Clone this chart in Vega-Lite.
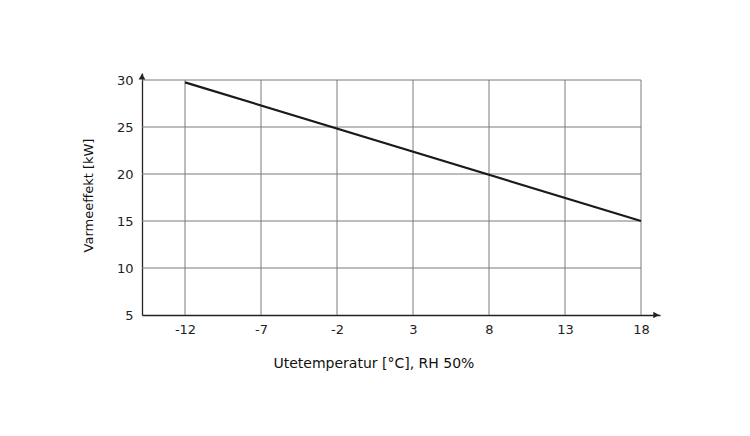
{
  "$schema": "https://vega.github.io/schema/vega-lite/v6.json",
  "autosize": {"type": "none"},
  "width": 518,
  "height": 242,
  "padding": {"left": 142, "top": 73, "right": 90, "bottom": 121},
  "background": "white",
  "config": {"view": {"stroke": null}, "font": "DejaVu Sans"},
  "datasets": {
    "curve": [{"t": -12, "p": 29.75}, {"t": 18, "p": 15}],
    "vgrid": [{"x": -12}, {"x": -7}, {"x": -2}, {"x": 3}, {"x": 8}, {"x": 13}, {"x": 18}],
    "hgrid": [{"y": 10}, {"y": 15}, {"y": 20}, {"y": 25}, {"y": 30}],
    "arrows": [{"x": 19.0, "y": 5, "s": "triangle-right"}, {"x": -14.83, "y": 30.35, "s": "triangle-up"}]
  },
  "layer": [
    {
      "data": {"name": "vgrid"},
      "mark": {"type": "rule", "color": "#7a7a7a", "strokeWidth": 1},
      "encoding": {
        "x": {"field": "x", "type": "quantitative",
          "scale": {"domain": [-14.83, 19.25], "nice": false, "zero": false},
          "axis": {
            "values": [-12, -7, -2, 3, 8, 13, 18],
            "labelExpr": "toString(datum.value)",
            "grid": false, "ticks": false,
            "domainColor": "#222", "domainWidth": 1.3,
            "labelFontSize": 13, "labelColor": "#222", "labelPadding": 8,
            "title": "Utetemperatur [°C], RH 50%",
            "titleFontSize": 14, "titleFontWeight": "normal", "titleColor": "#111",
            "titleAnchor": "start", "titleAlign": "left", "titleX": 131, "titleY": 41
          }},
        "y": {"datum": 5, "type": "quantitative",
          "scale": {"domain": [5, 30.745], "nice": false, "zero": false},
          "axis": {
            "values": [5, 10, 15, 20, 25, 30],
            "grid": false, "ticks": false,
            "domainColor": "#222", "domainWidth": 1.3,
            "labelFontSize": 13, "labelColor": "#222", "labelPadding": 9,
            "title": "Varmeeffekt [kW]",
            "titleFontSize": 13, "titleFontWeight": "normal", "titleColor": "#111",
            "titleAngle": -90, "titleAlign": "center", "titleBaseline": "middle",
            "titleX": -54, "titleY": 122
          }},
        "y2": {"datum": 30}
      }
    },
    {
      "data": {"name": "hgrid"},
      "mark": {"type": "rule", "color": "#7a7a7a", "strokeWidth": 1},
      "encoding": {
        "x": {"datum": -14.83, "type": "quantitative"},
        "x2": {"datum": 18},
        "y": {"field": "y", "type": "quantitative"}
      }
    },
    {
      "data": {"name": "curve"},
      "mark": {"type": "line", "color": "#1a1a1a", "strokeWidth": 2.2},
      "encoding": {
        "x": {"field": "t", "type": "quantitative"},
        "y": {"field": "p", "type": "quantitative"}
      }
    },
    {
      "data": {"name": "arrows"},
      "mark": {"type": "point", "filled": true, "color": "#222", "size": 45, "opacity": 1, "clip": false},
      "encoding": {
        "x": {"field": "x", "type": "quantitative"},
        "y": {"field": "y", "type": "quantitative"},
        "shape": {"field": "s", "type": "nominal", "scale": null, "legend": null}
      }
    }
  ]
}
